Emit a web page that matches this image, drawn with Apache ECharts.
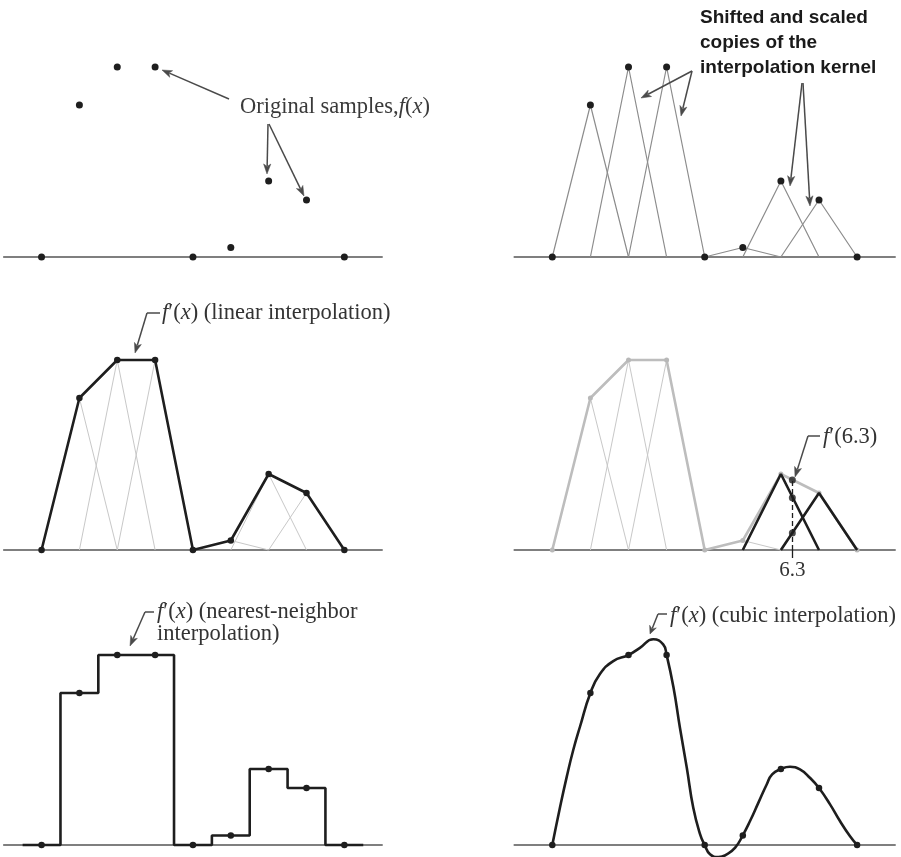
<!DOCTYPE html>
<html><head><meta charset="utf-8">
<script src="https://cdn.jsdelivr.net/npm/echarts@6/dist/echarts.min.js"></script>
<style>html,body{margin:0;padding:0;background:#fff}#c{width:901px;height:857px}</style>
</head><body><div id="c"></div>
<script>
// ---- data ----
const sampleX = [0, 1, 2, 3, 4, 5, 6, 7, 8];
const sampleF = [0, 0.8, 1.0, 1.0, 0, 0.05, 0.4, 0.3, 0];
const nnDomain = [-0.5, 8.5];
const probeX = 6.3;
const probeKernelValues = [0.09, 0.275];
const probeValue = 0.368;
const highlightKernels = [6, 7];
const probeLabel = '6.3';
const cubicX = [0, 0.2, 0.38, 0.55, 0.73, 1.0, 1.25, 1.6, 2.0, 2.3, 2.65, 2.91, 3.0, 3.18, 3.35, 3.53, 3.7, 3.88, 4.0, 4.14, 4.36, 4.58, 4.8, 5.0, 5.19, 5.41, 5.63, 5.77, 6.0, 6.24, 6.5, 6.76, 7.0, 7.29, 7.55, 7.81, 8.0];
const cubicY = [0, 0.196, 0.36, 0.5, 0.625, 0.8, 0.9, 0.968, 1.0, 1.038, 1.083, 1.056, 1.0, 0.83, 0.617, 0.407, 0.196, 0.056, 0, -0.049, -0.063, -0.049, -0.014, 0.051, 0.126, 0.223, 0.32, 0.372, 0.4, 0.412, 0.398, 0.354, 0.3, 0.214, 0.126, 0.047, 0];

// ---- layout ----
const BLACK = '#1e1e1e';
const SERIF = "'Liberation Serif','Times New Roman',serif";
const SANS = "'Liberation Sans',Arial,sans-serif";
const rowBase = [257, 550, 845];
const cols = [{left: 3.7, width: 378.5}, {left: 514.2, width: 381}];
const unit = 190, yMin = -0.06, yMax = 1.2;

const grids = [], xAxes = [], yAxes = [], series = [];
for (let r = 0; r < 3; r++) {
  for (let c = 0; c < 2; c++) {
    const gi = grids.length;
    grids.push({left: cols[c].left, width: cols[c].width, top: rowBase[r] - yMax * unit, height: (yMax - yMin) * unit});
    xAxes.push({gridIndex: gi, type: 'value', min: -1, max: 9,
      axisLine: {show: true, onZero: true, lineStyle: {color: '#555', width: 1.5}},
      axisTick: {show: false}, axisLabel: {show: false}, splitLine: {show: false}});
    yAxes.push({gridIndex: gi, type: 'value', min: yMin, max: yMax, show: false});
  }
}
const samples = sampleX.map((x, i) => [x, sampleF[i]]);
const base = {animation: false, silent: true};

function dots(gi, data, size, color, z) {
  series.push(Object.assign({}, base, {type: 'scatter', xAxisIndex: gi, yAxisIndex: gi, data,
    symbol: 'circle', symbolSize: size, itemStyle: {color, opacity: 1}, z: z || 5}));
}
function line(gi, data, color, width, extra) {
  series.push(Object.assign({}, base, {type: 'line', xAxisIndex: gi, yAxisIndex: gi, data,
    showSymbol: false, symbol: 'none', lineStyle: {color, width}, z: 3}, extra || {}));
}
function kernels(gi, color, width, skip) {
  sampleX.forEach((k, i) => {
    const f = sampleF[i];
    if (f <= 0) return;
    if (skip && skip.includes(k)) return;
    line(gi, [[k - 1, 0], [k, f], [k + 1, 0]], color, width, {z: 2});
  });
}

// Panel 0: original samples
dots(0, samples, 7, BLACK);
// Panel 1: shifted and scaled kernels
kernels(1, '#8c8c8c', 1.2);
dots(1, samples, 7, BLACK);
// Panel 2: linear interpolation
kernels(2, '#c8c8c8', 1);
line(2, samples, BLACK, 2.6, {z: 4});
dots(2, samples, 6.5, BLACK);
// Panel 3: value at 6.3
kernels(3, '#c8c8c8', 1, highlightKernels);
line(3, samples, '#bdbdbd', 2.6, {z: 3});
dots(3, samples, 5, '#b8b8b8', 3);
sampleX.forEach((k, i) => {
  if (highlightKernels.includes(k)) line(3, [[k - 1, 0], [k, sampleF[i]], [k + 1, 0]], BLACK, 2.6, {z: 4});
});
series.push(Object.assign({}, base, {type: 'scatter', xAxisIndex: 3, yAxisIndex: 3,
  data: probeKernelValues.concat([probeValue]).map(v => [probeX, v]),
  symbol: 'circle', symbolSize: 7, itemStyle: {color: BLACK}, z: 6,
  markLine: {silent: true, symbol: 'none', animation: false,
    data: [
      [{coord: [probeX, 0], lineStyle: {type: [5, 3], color: BLACK, width: 1.3}}, {coord: [probeX, probeValue]}],
      [{coord: [probeX, 0], lineStyle: {type: 'solid', color: BLACK, width: 1.3},
        label: {show: true, position: 'end', formatter: probeLabel, distance: 2,
          fontFamily: SERIF, fontSize: 21, color: '#333'}}, {coord: [probeX, -0.042]}]
    ],
    label: {show: false}}
}));
// Panel 4: nearest neighbour
line(4, [[nnDomain[0], 0]].concat(samples, [[nnDomain[1], 0]]), BLACK, 2.6, {step: 'middle', z: 4});
dots(4, samples, 6.5, BLACK);
// Panel 5: cubic
line(5, cubicX.map((x, i) => [x, cubicY[i]]), BLACK, 2.6, {smooth: 0.5, clip: false, z: 4});
dots(5, samples, 6.5, BLACK);

// ---- annotations ----
const ACOL = '#4a4a4a';
function arrow(pts, head) {
  head = head || 10;
  const n = pts.length, [tx, ty] = pts[n - 1], [px, py] = pts[n - 2];
  const dx = tx - px, dy = ty - py, L = Math.hypot(dx, dy), ux = dx / L, uy = dy / L;
  const bx = tx - ux * head, by = ty - uy * head, w = 3.6;
  const linePts = pts.slice(0, n - 1).concat([[bx + ux * 2, by + uy * 2]]);
  return [
    {type: 'polyline', shape: {points: linePts}, style: {stroke: ACOL, lineWidth: 1.5, fill: null}, z: 20, silent: true},
    {type: 'polygon', shape: {points: [[tx, ty], [bx - uy * w, by + ux * w], [bx + ux * 2.5, by + uy * 2.5], [bx + uy * w, by - ux * w]]},
      style: {fill: ACOL, stroke: ACOL, lineWidth: 0.5}, z: 20, silent: true}
  ];
}
const FS = 22.5;
function richText(x, y, str, col) {
  const s = FS, c = col || '#333';
  return {type: 'text', x, y, z: 20, silent: true,
    style: {text: str, fill: c, font: s + 'px ' + SERIF, align: 'left', verticalAlign: 'middle',
      textAlign: 'left', textVerticalAlign: 'middle', lineHeight: 22,
      rich: {
        n: {fontFamily: SERIF, fontSize: s, fill: c, color: c, lineHeight: 22},
        i: {fontFamily: SERIF, fontSize: s, fontStyle: 'italic', fill: c, color: c, lineHeight: 22}
      }}};
}
function seg(a, b) {
  return {type: 'polyline', shape: {points: [a, b]}, style: {stroke: ACOL, lineWidth: 1.5}, z: 20, silent: true};
}
const fx = '{i|f}{n|′(}{i|x}{n|)}';
const graphic = [].concat(
  [richText(240, 107, '{n|Original samples,}{i|f}{n|(}{i|x}{n|)}', '#3a3a3a')],
  arrow([[229, 99], [162, 70]]),
  arrow([[268, 124], [267, 174]]),
  arrow([[269, 124], [304, 196]]),
  [{type: 'text', x: 700, y: 5, z: 20, silent: true,
    style: {text: 'Shifted and scaled\ncopies of the\ninterpolation kernel', fill: '#1a1a1a',
      font: 'bold 19px ' + SANS, lineHeight: 25, align: 'left', verticalAlign: 'top',
      textAlign: 'left', textVerticalAlign: 'top'}}],
  arrow([[692, 71], [641, 98]]),
  arrow([[692, 71], [681, 116]]),
  arrow([[802, 83], [790, 186]]),
  arrow([[803, 83], [810, 206]]),
  [richText(162, 313, fx + '{n| (linear interpolation)}')],
  [seg([160, 313], [147, 313])],
  arrow([[147, 313], [135, 353]]),
  [richText(823, 437, '{i|f}{n|′(6.3)}')],
  [seg([820, 436], [808, 436])],
  arrow([[808, 436], [795, 477]]),
  [richText(157, 612, fx + '{n| (nearest-neighbor}'), richText(157, 634, '{n|interpolation)}')],
  [seg([154, 612], [145, 612])],
  arrow([[145, 612], [130, 646]]),
  [richText(670, 616, fx + '{n| (cubic interpolation)}')],
  [seg([667, 614], [658, 614])],
  arrow([[658, 614], [650, 634]], 8)
);

const chart = echarts.init(document.getElementById('c'), null, {renderer: 'canvas'});
chart.setOption({
  animation: false,
  backgroundColor: '#ffffff',
  grid: grids, xAxis: xAxes, yAxis: yAxes, series, graphic
});
</script></body></html>
